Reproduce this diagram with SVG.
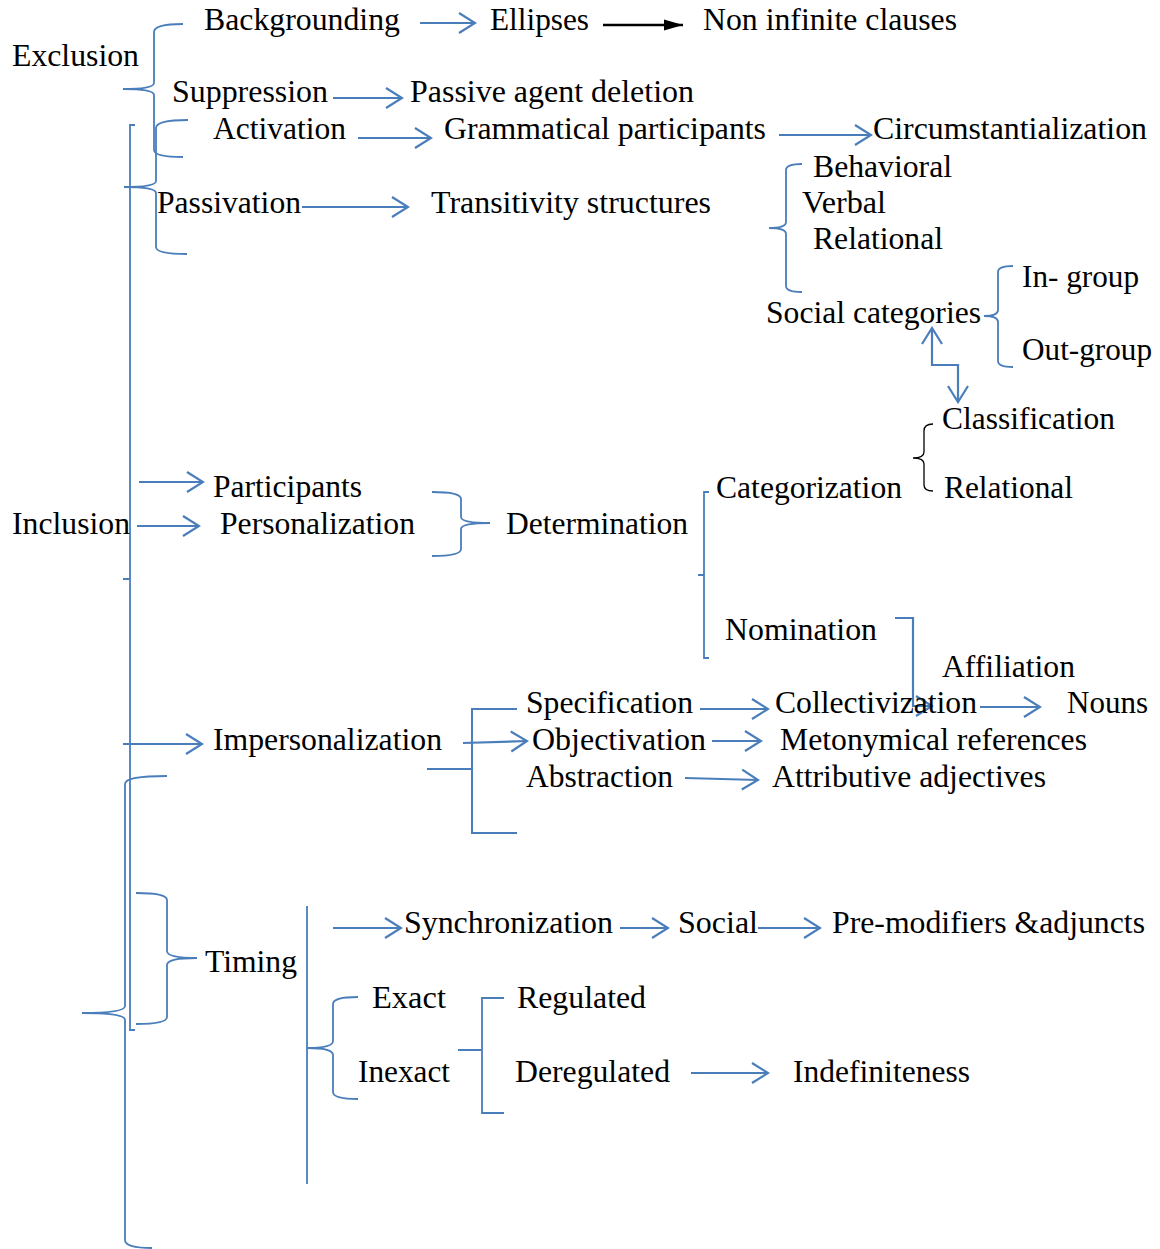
<svg xmlns="http://www.w3.org/2000/svg" width="1160" height="1249" viewBox="0 0 1160 1249">
<style>
text{font-family:'Liberation Serif','Times New Roman',serif;font-size:30.5px;fill:#000}
.c{fill:none;stroke:#4A7EBB;stroke-width:2}
.b{fill:none;stroke:#4A7EBB;stroke-width:1.8}
.a{fill:none;stroke:#4A7EBB;stroke-width:2.2;marker-end:url(#oa)}
</style>
<defs>
<marker id="oa" viewBox="0 0 20 24" refX="18" refY="12" markerWidth="20" markerHeight="24" markerUnits="userSpaceOnUse" orient="auto">
<path d="M2,2 L18,12 L2,22" fill="none" stroke="#4A7EBB" stroke-width="2.2"/>
</marker>
<marker id="oas" viewBox="0 0 20 24" refX="18" refY="12" markerWidth="20" markerHeight="24" markerUnits="userSpaceOnUse" orient="auto-start-reverse">
<path d="M2,2 L18,12 L2,22" fill="none" stroke="#4A7EBB" stroke-width="2.2"/>
</marker>
<marker id="fa" viewBox="0 0 20 12" refX="19" refY="6" markerWidth="20" markerHeight="12" markerUnits="userSpaceOnUse" orient="auto">
<path d="M0,0.5 L19,6 L0,11.5 Z" fill="#000"/>
</marker>
</defs>
<g id="connectors">
<path class="b" d="M183,24 Q154,24 154,32 V83 Q154,89 123,89 Q154,89 154,95 V150 Q154,157 183,157"/>
<path class="b" d="M188,120 Q156,120 156,128 V181 Q156,187 124,187 Q156,187 156,193 V247 Q156,254 187,254"/>
<path class="b" d="M135,125 H130 V1030 H135 M123,579 H130"/>
<path class="b" d="M167,776 Q125,776 125,784 V1006 Q125,1013 82,1013 Q125,1013 125,1020 V1240 Q125,1248 152,1248"/>
<path class="b" d="M136,893 Q167,893 167,900 V951 Q167,958 197,958 Q167,958 167,965 V1017 Q167,1024 136,1024"/>
<path class="b" d="M307,906 V1184"/>
<path class="b" d="M358,997 Q333,997 333,1004 V1041 Q333,1048 307,1048 Q333,1048 333,1055 V1092 Q333,1099 358,1099"/>
<path class="b" d="M802,164 Q786,164 786,170 V222 Q786,228 769,228 Q786,228 786,234 V286 Q786,292 802,292"/>
<path class="b" d="M1013,266 Q998,266 998,272 V310 Q998,316 984,316 Q998,316 998,322 V361 Q998,367 1013,367"/>
<path fill="none" stroke="#000" stroke-width="1.3" d="M933,424 Q924,424 924,431 V452 Q924,458 913,458 Q924,458 924,464 V485 Q924,491 933,491"/>
<path class="b" d="M432,492 Q461,492 461,499 V517 Q461,523 490,523 Q461,523 461,529 V549 Q461,556 432,556"/>
<path class="b" d="M709,492 H704 V658 H709 M698,575 H704"/>
<path class="c" d="M517,709 H472 V833 H517 M427,769 H472"/>
<path class="b" d="M504,998 H482 V1113 H504 M458,1050 H482"/>
<path class="a" d="M420,23 H475"/>
<path fill="none" stroke="#000" stroke-width="2.5" marker-end="url(#fa)" d="M603,25 H683"/>
<path class="a" d="M333,98 H402"/>
<path class="a" d="M358,138 H431"/>
<path class="a" d="M779,135 H871"/>
<path class="a" d="M302,207 H408"/>
<path class="a" marker-start="url(#oas)" d="M932,328 V365 H958 V402"/>
<path class="a" d="M139,482 H203"/>
<path class="a" d="M137,526 H199"/>
<path class="a" d="M123,744 H202"/>
<path class="a" d="M463,743 L527,741"/>
<path class="a" d="M700,709 H768"/>
<path class="a" d="M895,618 H913 V706 H932"/>
<path class="a" d="M980,707 H1040"/>
<path class="a" d="M712,741 H761"/>
<path class="a" d="M685,778 L758,780"/>
<path class="a" d="M333,928 H401"/>
<path class="a" d="M620,928 H668"/>
<path class="a" d="M758,928 H820"/>
<path class="a" d="M691,1073 H768"/>
</g>
<g id="n-exclusion"><text x="12" y="66" textLength="127" lengthAdjust="spacingAndGlyphs">Exclusion</text></g>
<g id="n-backgrounding"><text x="204" y="30" textLength="196" lengthAdjust="spacingAndGlyphs">Backgrounding</text></g>
<g id="n-ellipses"><text x="490" y="30" textLength="99" lengthAdjust="spacingAndGlyphs">Ellipses</text></g>
<g id="n-noninfinite"><text x="703" y="30" textLength="254" lengthAdjust="spacingAndGlyphs">Non infinite clauses</text></g>
<g id="n-suppression"><text x="172" y="102" textLength="156" lengthAdjust="spacingAndGlyphs">Suppression</text></g>
<g id="n-passive"><text x="410" y="102" textLength="284" lengthAdjust="spacingAndGlyphs">Passive agent deletion</text></g>
<g id="n-activation"><text x="213" y="139" textLength="133" lengthAdjust="spacingAndGlyphs">Activation</text></g>
<g id="n-grammatical"><text x="444" y="139" textLength="322" lengthAdjust="spacingAndGlyphs">Grammatical participants</text></g>
<g id="n-circum"><text x="873" y="139" textLength="274" lengthAdjust="spacingAndGlyphs">Circumstantialization</text></g>
<g id="n-passivation"><text x="157" y="213" textLength="144" lengthAdjust="spacingAndGlyphs">Passivation</text></g>
<g id="n-transitivity"><text x="431" y="213" textLength="280" lengthAdjust="spacingAndGlyphs">Transitivity structures</text></g>
<g id="n-behavioral"><text x="813" y="177" textLength="139" lengthAdjust="spacingAndGlyphs">Behavioral</text></g>
<g id="n-verbal"><text x="802" y="213" textLength="84" lengthAdjust="spacingAndGlyphs">Verbal</text></g>
<g id="n-relational1"><text x="813" y="249" textLength="130" lengthAdjust="spacingAndGlyphs">Relational</text></g>
<g id="n-ingroup"><text x="1022" y="287" textLength="117" lengthAdjust="spacingAndGlyphs">In- group</text></g>
<g id="n-social-cat"><text x="766" y="323" textLength="215" lengthAdjust="spacingAndGlyphs">Social categories</text></g>
<g id="n-outgroup"><text x="1022" y="360" textLength="130" lengthAdjust="spacingAndGlyphs">Out-group</text></g>
<g id="n-classification"><text x="942" y="429" textLength="173" lengthAdjust="spacingAndGlyphs">Classification</text></g>
<g id="n-relational2"><text x="944" y="498" textLength="129" lengthAdjust="spacingAndGlyphs">Relational</text></g>
<g id="n-categorization"><text x="716" y="498" textLength="186" lengthAdjust="spacingAndGlyphs">Categorization</text></g>
<g id="n-participants"><text x="213" y="497" textLength="149" lengthAdjust="spacingAndGlyphs">Participants</text></g>
<g id="n-inclusion"><text x="12" y="534" textLength="118" lengthAdjust="spacingAndGlyphs">Inclusion</text></g>
<g id="n-personalization"><text x="220" y="534" textLength="195" lengthAdjust="spacingAndGlyphs">Personalization</text></g>
<g id="n-determination"><text x="506" y="534" textLength="182" lengthAdjust="spacingAndGlyphs">Determination</text></g>
<g id="n-nomination"><text x="725" y="640" textLength="152" lengthAdjust="spacingAndGlyphs">Nomination</text></g>
<g id="n-affiliation"><text x="942" y="677" textLength="133" lengthAdjust="spacingAndGlyphs">Affiliation</text></g>
<g id="n-specification"><text x="526" y="713" textLength="167" lengthAdjust="spacingAndGlyphs">Specification</text></g>
<g id="n-collectivization"><text x="775" y="713" textLength="202" lengthAdjust="spacingAndGlyphs">Collectivization</text></g>
<g id="n-nouns"><text x="1067" y="713" textLength="81" lengthAdjust="spacingAndGlyphs">Nouns</text></g>
<g id="n-impersonalization"><text x="213" y="750" textLength="229" lengthAdjust="spacingAndGlyphs">Impersonalization</text></g>
<g id="n-objectivation"><text x="532" y="750" textLength="174" lengthAdjust="spacingAndGlyphs">Objectivation</text></g>
<g id="n-metonymical"><text x="780" y="750" textLength="307" lengthAdjust="spacingAndGlyphs">Metonymical references</text></g>
<g id="n-abstraction"><text x="526" y="787" textLength="147" lengthAdjust="spacingAndGlyphs">Abstraction</text></g>
<g id="n-attributive"><text x="772" y="787" textLength="274" lengthAdjust="spacingAndGlyphs">Attributive adjectives</text></g>
<g id="n-synchronization"><text x="404" y="933" textLength="209" lengthAdjust="spacingAndGlyphs">Synchronization</text></g>
<g id="n-social"><text x="678" y="933" textLength="80" lengthAdjust="spacingAndGlyphs">Social</text></g>
<g id="n-premodifiers"><text x="832" y="933" textLength="313" lengthAdjust="spacingAndGlyphs">Pre-modifiers &amp;adjuncts</text></g>
<g id="n-timing"><text x="205" y="972" textLength="92" lengthAdjust="spacingAndGlyphs">Timing</text></g>
<g id="n-exact"><text x="372" y="1008" textLength="74" lengthAdjust="spacingAndGlyphs">Exact</text></g>
<g id="n-regulated"><text x="517" y="1008" textLength="129" lengthAdjust="spacingAndGlyphs">Regulated</text></g>
<g id="n-inexact"><text x="358" y="1082" textLength="92" lengthAdjust="spacingAndGlyphs">Inexact</text></g>
<g id="n-deregulated"><text x="515" y="1082" textLength="155" lengthAdjust="spacingAndGlyphs">Deregulated</text></g>
<g id="n-indefiniteness"><text x="793" y="1082" textLength="177" lengthAdjust="spacingAndGlyphs">Indefiniteness</text></g>
</svg>
